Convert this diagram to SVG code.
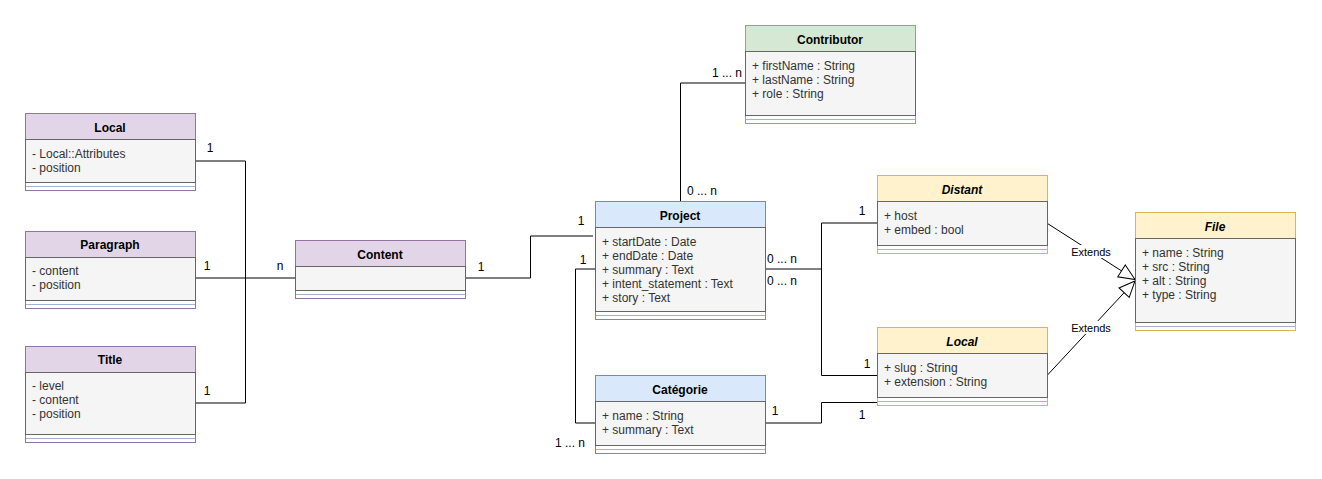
<svg xmlns="http://www.w3.org/2000/svg" width="1322" height="479" viewBox="0 0 1322 479">
<style>
text{font-family:"Liberation Sans",Arial,sans-serif;font-size:12px}
.h{font-weight:bold;fill:#000;text-anchor:middle}
.hi{font-weight:bold;font-style:italic;fill:#000;text-anchor:middle}
.a{fill:#333}
.lbl{fill:#000;text-anchor:middle}
.ext{font-size:11px;fill:#000;text-anchor:middle}
.body{fill:#f5f5f5;stroke:#666;stroke-width:1}
.sep{stroke:#a3b3cf;stroke-width:1}
.outer{fill:#fff}
.purple .outer,.purple .hd{stroke:#9673a6}
.purple .hd{fill:#e1d5e7}
.blue .outer,.blue .hd{stroke:#6c8ebf}
.blue .hd{fill:#dae8fc}
.green .outer,.green .hd{stroke:#82b366}
.green .hd{fill:#d5e8d4}
.yellow .outer,.yellow .hd{stroke:#d6b656}
.yellow .hd{fill:#fff2cc}
.conn path{fill:none;stroke:#000;stroke-width:1}
</style>
<defs>
<marker id="tri" markerUnits="userSpaceOnUse" markerWidth="18" markerHeight="16" refX="16" refY="7" orient="auto" overflow="visible">
<path d="M0,0 L16,7 L0,14 Z" fill="#fff" stroke="#000" stroke-width="1"/>
</marker>
</defs>

<g id="connectors" class="conn">
<path d="M195.5,161 H245.5 V403 H195.5"/>
<path d="M195.5,278 H295.5"/>
<path d="M465.5,278 H530.5 V236 H593"/>
<path d="M680.5,201 V83 H745.5"/>
<path d="M595.5,269 H575.5 V423 H595.5"/>
<path d="M765.5,269 H821.5 V223 H877.5"/>
<path d="M821.5,269 V375.5 H877.5"/>
<path d="M765.5,423 H821.5 V402.5 H882"/>
<path d="M1047.5,223.5 L1135,279.5" marker-end="url(#tri)"/>
<path d="M1047.5,375 L1135,281" marker-end="url(#tri)"/>
<rect x="1071" y="245" width="40" height="13" fill="#fff"/>
<text class="ext" x="1091" y="256">Extends</text>
<rect x="1071" y="321" width="40" height="13" fill="#fff"/>
<text class="ext" x="1091" y="332">Extends</text>
<text class="lbl" x="210" y="152">1</text>
<text class="lbl" x="207" y="270">1</text>
<text class="lbl" x="280" y="270">n</text>
<text class="lbl" x="207" y="395">1</text>
<text class="lbl" x="481" y="271">1</text>
<text class="lbl" x="581" y="225">1</text>
<text class="lbl" x="727" y="77">1 ... n</text>
<text class="lbl" x="702" y="195">0 ... n</text>
<text class="lbl" x="583" y="264">1</text>
<text class="lbl" x="782" y="263">0 ... n</text>
<text class="lbl" x="782" y="285">0 ... n</text>
<text class="lbl" x="862" y="215">1</text>
<text class="lbl" x="867" y="368">1</text>
<text class="lbl" x="570" y="447">1 ... n</text>
<text class="lbl" x="775" y="415">1</text>
<text class="lbl" x="862" y="419">1</text>
</g>

<g id="local-left" class="purple">
<rect class="outer" x="25.5" y="113.5" width="170" height="77"/>
<rect class="hd" x="25.5" y="113.5" width="170" height="26"/>
<rect class="body" x="25.5" y="139.5" width="170" height="43"/>
<line class="sep" x1="26" y1="186.5" x2="195" y2="186.5"/>
<text class="h" x="110" y="132">Local</text>
<text class="a" x="32" y="158">- Local::Attributes</text>
<text class="a" x="32" y="172">- position</text>
</g>

<g id="paragraph" class="purple">
<rect class="outer" x="25.5" y="231.5" width="170" height="77"/>
<rect class="hd" x="25.5" y="231.5" width="170" height="26"/>
<rect class="body" x="25.5" y="257.5" width="170" height="43"/>
<line class="sep" x1="26" y1="304.5" x2="195" y2="304.5"/>
<text class="h" x="110" y="249">Paragraph</text>
<text class="a" x="32" y="275">- content</text>
<text class="a" x="32" y="289">- position</text>
</g>

<g id="title" class="purple">
<rect class="outer" x="25.5" y="346.5" width="170" height="96"/>
<rect class="hd" x="25.5" y="346.5" width="170" height="26"/>
<rect class="body" x="25.5" y="372.5" width="170" height="62"/>
<line class="sep" x1="26" y1="438.5" x2="195" y2="438.5"/>
<text class="h" x="110" y="364">Title</text>
<text class="a" x="32" y="390">- level</text>
<text class="a" x="32" y="404">- content</text>
<text class="a" x="32" y="418">- position</text>
</g>

<g id="content" class="purple">
<rect class="outer" x="295.5" y="240.5" width="170" height="58"/>
<rect class="hd" x="295.5" y="240.5" width="170" height="26"/>
<rect class="body" x="295.5" y="266.5" width="170" height="24"/>
<line class="sep" x1="296" y1="294.5" x2="465" y2="294.5"/>
<text class="h" x="380" y="259">Content</text>
</g>

<g id="project" class="blue">
<rect class="outer" x="595.5" y="201.5" width="170" height="118"/>
<rect class="hd" x="595.5" y="201.5" width="170" height="26"/>
<rect class="body" x="595.5" y="227.5" width="170" height="84"/>
<line class="sep" x1="596" y1="315.5" x2="765" y2="315.5"/>
<text class="h" x="680" y="220">Project</text>
<text class="a" x="602" y="246">+ startDate : Date</text>
<text class="a" x="602" y="260">+ endDate : Date</text>
<text class="a" x="602" y="274">+ summary : Text</text>
<text class="a" x="602" y="288">+ intent_statement : Text</text>
<text class="a" x="602" y="302">+ story : Text</text>
</g>

<g id="contributor" class="green">
<rect class="outer" x="745.5" y="25.5" width="170" height="98"/>
<rect class="hd" x="745.5" y="25.5" width="170" height="26"/>
<rect class="body" x="745.5" y="51.5" width="170" height="64"/>
<line class="sep" x1="746" y1="119.5" x2="915" y2="119.5"/>
<text class="h" x="830" y="44">Contributor</text>
<text class="a" x="752" y="70">+ firstName : String</text>
<text class="a" x="752" y="84">+ lastName : String</text>
<text class="a" x="752" y="98">+ role : String</text>
</g>

<g id="categorie" class="blue">
<rect class="outer" x="595.5" y="375.5" width="170" height="78"/>
<rect class="hd" x="595.5" y="375.5" width="170" height="26"/>
<rect class="body" x="595.5" y="401.5" width="170" height="44"/>
<line class="sep" x1="596" y1="449.5" x2="765" y2="449.5"/>
<text class="h" x="680" y="394">Catégorie</text>
<text class="a" x="602" y="420">+ name : String</text>
<text class="a" x="602" y="434">+ summary : Text</text>
</g>

<g id="distant" class="yellow">
<rect class="outer" x="877.5" y="175.5" width="170" height="78"/>
<rect class="hd" x="877.5" y="175.5" width="170" height="26"/>
<rect class="body" x="877.5" y="201.5" width="170" height="44"/>
<line class="sep" x1="878" y1="249.5" x2="1047" y2="249.5"/>
<text class="hi" x="962" y="194">Distant</text>
<text class="a" x="884" y="220">+ host</text>
<text class="a" x="884" y="234">+ embed : bool</text>
</g>

<g id="local-file" class="yellow">
<rect class="outer" x="877.5" y="327.5" width="170" height="78"/>
<rect class="hd" x="877.5" y="327.5" width="170" height="26"/>
<rect class="body" x="877.5" y="353.5" width="170" height="44"/>
<line class="sep" x1="878" y1="401.5" x2="1047" y2="401.5"/>
<text class="hi" x="962" y="346">Local</text>
<text class="a" x="884" y="372">+ slug : String</text>
<text class="a" x="884" y="386">+ extension : String</text>
</g>

<g id="file" class="yellow">
<rect class="outer" x="1135.5" y="212.5" width="160" height="118"/>
<rect class="hd" x="1135.5" y="212.5" width="160" height="26"/>
<rect class="body" x="1135.5" y="238.5" width="160" height="84"/>
<line class="sep" x1="1136" y1="326.5" x2="1295" y2="326.5"/>
<text class="hi" x="1215" y="231">File</text>
<text class="a" x="1142" y="257">+ name : String</text>
<text class="a" x="1142" y="271">+ src : String</text>
<text class="a" x="1142" y="285">+ alt : String</text>
<text class="a" x="1142" y="299">+ type : String</text>
</g>
</svg>
